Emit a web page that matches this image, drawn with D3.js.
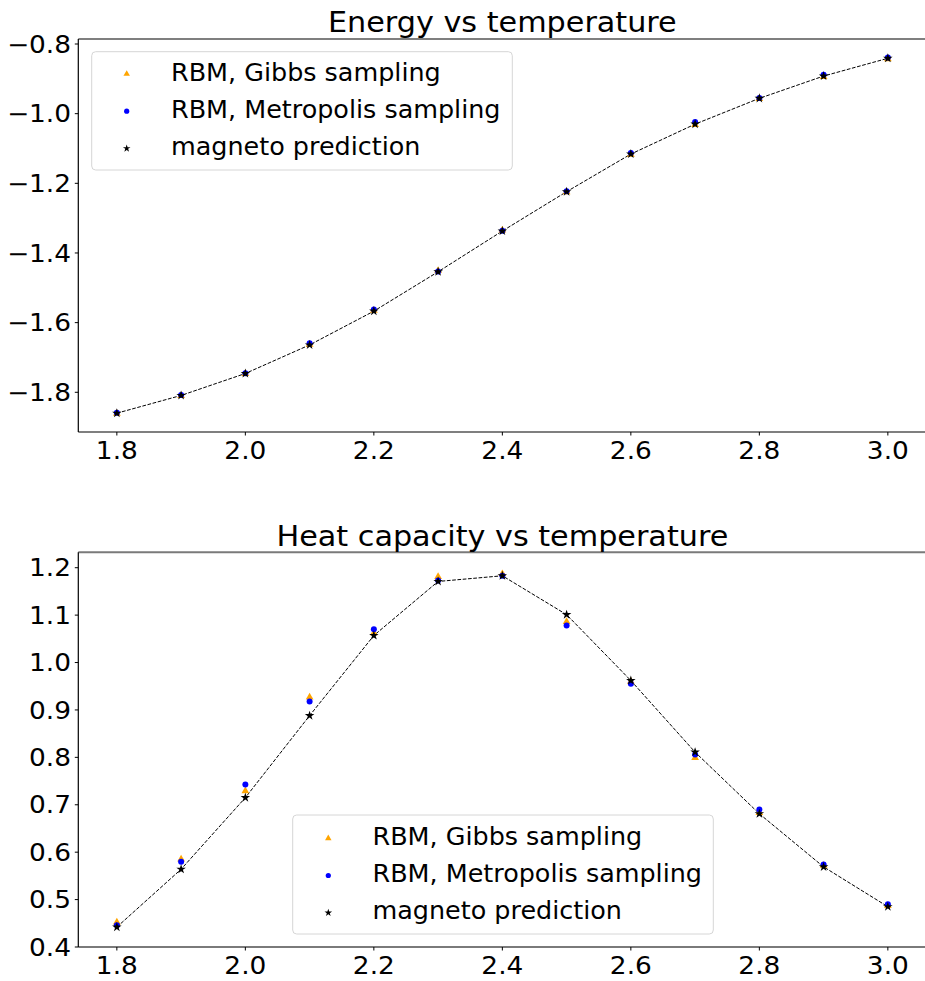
<!DOCTYPE html>
<html>
<head>
<meta charset="utf-8">
<script src="https://cdn.jsdelivr.net/npm/d3@7"></script>
<style>
  html, body { margin: 0; padding: 0; background: #fff; }
  svg { display: block; }
  text { font-family: "DejaVu Sans", sans-serif; fill: #000; }
</style>
</head>
<body>
<svg id="chart" width="925" height="981"></svg>
<script>
// Temperatures sampled for both panels
const temperatures = [1.8, 1.9, 2.0, 2.1, 2.2, 2.3, 2.4, 2.5, 2.6, 2.7, 2.8, 2.9, 3.0];

// Energy per site
const energyGibbs      = [-1.861, -1.810, -1.747, -1.663, -1.565, -1.451, -1.335, -1.225, -1.117, -1.032, -0.957, -0.894, -0.843];
const energyMetropolis = [-1.859, -1.808, -1.745, -1.659, -1.562, -1.453, -1.336, -1.223, -1.113, -1.024, -0.955, -0.888, -0.839];
const energyMagneto    = [-1.860, -1.809, -1.746, -1.664, -1.567, -1.454, -1.337, -1.224, -1.116, -1.030, -0.956, -0.892, -0.841];

// Heat capacity per site
const heatGibbs      = [0.452, 0.585, 0.729, 0.927, 1.062, 1.181, 1.187, 1.086, 0.960, 0.799, 0.683, 0.572, 0.487];
const heatMetropolis = [0.446, 0.580, 0.743, 0.918, 1.070, 1.173, 1.183, 1.078, 0.955, 0.806, 0.690, 0.574, 0.490];
const heatMagneto    = [0.442, 0.564, 0.715, 0.888, 1.057, 1.171, 1.183, 1.101, 0.962, 0.811, 0.681, 0.569, 0.485];

// Tick labels
const xTicks = [1.8, 2.0, 2.2, 2.4, 2.6, 2.8, 3.0];
const energyTicks = [-0.8, -1.0, -1.2, -1.4, -1.6, -1.8];
const heatTicks = [0.4, 0.5, 0.6, 0.7, 0.8, 0.9, 1.0, 1.1, 1.2];

const seriesNames = ["RBM, Gibbs sampling", "RBM, Metropolis sampling", "magneto prediction"];

const svg = d3.select("#chart");
const fmt = d3.format(".1f");
const minusFmt = v => fmt(v).replace("-", "\u2212");

const left = 78.3, right = 926.4;
const x = d3.scaleLinear().domain([1.74, 3.06]).range([left, right]);

const TICK_SX = 1.1, TITLE_SX = 1.1, LEG_SX = 1.06;

function scaledText(g, tx, ty, str, size, anchor, sx) {
  return g.append("text")
    .attr("transform", `translate(${tx},${ty}) scale(${sx},1)`)
    .attr("text-anchor", anchor)
    .style("font-size", size + "px")
    .text(str);
}

const triangle = d3.symbol().type(d3.symbolTriangle);
const star = d3.symbol().type(d3.symbolStar);

function panel(opts) {
  const { y, top, bottom, title, titleY, ticks, gibbs, metro, magneto, legend, spineGray } = opts;
  const g = svg.append("g");

  // dashed line through the magneto prediction
  const line = d3.line().x((d, i) => x(temperatures[i])).y(d => y(d));
  g.append("path")
    .datum(magneto)
    .attr("d", line)
    .attr("fill", "none")
    .attr("stroke", "#000")
    .attr("stroke-width", 1)
    .attr("stroke-dasharray", "3.7,1.6");

  // Gibbs sampling: orange triangles
  g.append("g").selectAll("path").data(gibbs).join("path")
    .attr("d", triangle.size(26)())
    .attr("transform", (d, i) => `translate(${x(temperatures[i])},${y(d)})`)
    .attr("fill", "orange");

  // Metropolis sampling: blue dots
  g.append("g").selectAll("circle").data(metro).join("circle")
    .attr("cx", (d, i) => x(temperatures[i]))
    .attr("cy", d => y(d))
    .attr("r", 3)
    .attr("fill", "blue");

  // magneto prediction: black stars
  g.append("g").selectAll("path").data(magneto).join("path")
    .attr("d", star.size(28)())
    .attr("transform", (d, i) => `translate(${x(temperatures[i])},${y(d)})`)
    .attr("fill", "#000");

  // spines
  const spineColor = spineGray ? "#7a7a7a" : "#000";
  const spineW = spineGray ? 2 : 1.2;
  g.append("line").attr("x1", left).attr("x2", 930).attr("y1", top).attr("y2", top)
    .attr("stroke", spineColor).attr("stroke-width", spineW);
  g.append("line").attr("x1", left).attr("x2", 930).attr("y1", bottom).attr("y2", bottom)
    .attr("stroke", spineColor).attr("stroke-width", spineW);
  g.append("line").attr("x1", left).attr("x2", left).attr("y1", top).attr("y2", bottom)
    .attr("stroke", "#000").attr("stroke-width", 1.2);

  // y ticks
  ticks.forEach(t => {
    const ty = y(t);
    g.append("line").attr("x1", left - 3.5).attr("x2", left).attr("y1", ty).attr("y2", ty)
      .attr("stroke", "#000").attr("stroke-width", 1);
    scaledText(g, 71, ty + 8.7, minusFmt(t), 24, "end", TICK_SX);
  });

  // x ticks
  xTicks.forEach(t => {
    const tx = x(t);
    g.append("line").attr("x1", tx).attr("x2", tx).attr("y1", bottom).attr("y2", bottom + 3.5)
      .attr("stroke", "#000").attr("stroke-width", 1);
    scaledText(g, tx, bottom + 27.2, fmt(t), 24, "middle", TICK_SX);
  });

  // title
  scaledText(g, (left + right) / 2, titleY, title, 27.5, "middle", TITLE_SX);

  // legend
  const lg = g.append("g");
  lg.append("rect")
    .attr("x", legend.x0).attr("y", legend.y0)
    .attr("width", legend.x1 - legend.x0).attr("height", legend.y1 - legend.y0)
    .attr("rx", 4).attr("ry", 4)
    .attr("fill", "#fff").attr("fill-opacity", 0.8)
    .attr("stroke", "#d6d6d6").attr("stroke-width", 1);
  seriesNames.forEach((name, i) => {
    const by = legend.base + i * 37.2;
    const my = by - 6.7;
    if (i === 0) {
      lg.append("path").attr("d", triangle.size(18)())
        .attr("transform", `translate(${legend.mx},${my})`).attr("fill", "orange");
    } else if (i === 1) {
      lg.append("circle").attr("cx", legend.mx).attr("cy", my).attr("r", 2.6).attr("fill", "blue");
    } else {
      lg.append("path").attr("d", star.size(18)())
        .attr("transform", `translate(${legend.mx},${my})`).attr("fill", "#000");
    }
    scaledText(lg, legend.tx, by, name, 24, "start", LEG_SX);
  });
}

panel({
  y: d3.scaleLinear().domain([-1.914, -0.7856]).range([432, 39]),
  top: 39, bottom: 432,
  title: "Energy vs temperature", titleY: 31.7,
  ticks: energyTicks,
  gibbs: energyGibbs, metro: energyMetropolis, magneto: energyMagneto,
  legend: { x0: 91.7, x1: 512.3, y0: 51.7, y1: 170, mx: 126.7, tx: 171, base: 80.7 },
  spineGray: false
});

panel({
  y: d3.scaleLinear().domain([0.4, 1.2325]).range([947, 552.3]),
  top: 552.3, bottom: 947,
  title: "Heat capacity vs temperature", titleY: 545.7,
  ticks: heatTicks,
  gibbs: heatGibbs, metro: heatMetropolis, magneto: heatMagneto,
  legend: { x0: 292.7, x1: 713.3, y0: 815, y1: 934, mx: 328.3, tx: 372.5, base: 845 },
  spineGray: true
});
</script>
</body>
</html>
